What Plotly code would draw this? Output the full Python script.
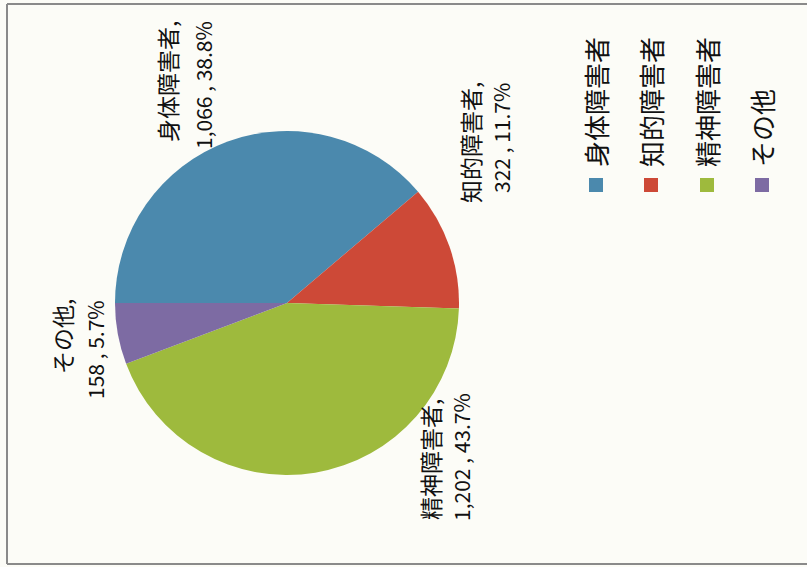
import plotly.graph_objects as go

W, H = 807, 567

categories = ["身体障害者", "知的障害者", "精神障害者", "その他"]
values = [1066, 322, 1202, 158]
percents = ["38.8%", "11.7%", "43.7%", "5.7%"]
colors = ["#4b89ad", "#cd4937", "#9eba3d", "#7d6ba3"]

FONT = "Noto Sans CJK JP"


def px(x):
    return x / W


def py(y):
    return 1 - y / H


fig = go.Figure()

# pie placed by its domain (centre ~ (287,303), radius ~172)
cx, cy, r = 287, 303, 172
fig.add_trace(go.Pie(
    labels=categories,
    values=values,
    sort=False,
    direction="clockwise",
    rotation=270,
    marker=dict(colors=colors, line=dict(width=0)),
    textinfo="none",
    hoverinfo="label+value+percent",
    showlegend=False,
    domain=dict(x=[px(cx - r), px(cx + r)], y=[py(cy + r), py(cy - r)]),
))

annotations = []

# data labels: (line1 x, line1 y, line2 x, line2 y) centres in pixels
label_pos = [
    (167, 82, 203, 85),
    (470, 142, 501, 138),
    (430, 460, 461, 457),
    (62, 337, 95, 350),
]
for cat, val, pct, (x1, y1, x2, y2) in zip(categories, values, percents, label_pos):
    annotations.append(dict(
        x=px(x1), y=py(y1), xref="paper", yref="paper",
        text=cat + ",", textangle=-90, showarrow=False,
        xanchor="center", yanchor="middle",
        font=dict(family=FONT, size=23, color="#111111"),
    ))
    annotations.append(dict(
        x=px(x2), y=py(y2), xref="paper", yref="paper",
        text=f"{val:,} , {pct}", textangle=-90, showarrow=False,
        xanchor="center", yanchor="middle",
        font=dict(family=FONT, size=21, color="#111111"),
    ))

# legend (rotated)
legend_x = [596, 651, 707, 762]
shapes = []
for cat, col, lx in zip(categories, colors, legend_x):
    annotations.append(dict(
        x=px(lx), y=py(169), xref="paper", yref="paper",
        text=cat, textangle=-90, showarrow=False,
        xanchor="center", yanchor="bottom",
        font=dict(family=FONT, size=26, color="#111111"),
    ))
    shapes.append(dict(
        type="rect", xref="paper", yref="paper",
        x0=px(lx - 7), x1=px(lx + 7), y0=py(192), y1=py(178),
        fillcolor=col, line=dict(width=0),
    ))

# scanned frame border (top, left, bottom)
border = dict(color="#8a8a8a", width=2)
shapes.append(dict(type="line", xref="paper", yref="paper",
                   x0=px(7), x1=1, y0=py(4), y1=py(4), line=border))
shapes.append(dict(type="line", xref="paper", yref="paper",
                   x0=px(7), x1=px(7), y0=py(4), y1=py(564), line=border))
shapes.append(dict(type="line", xref="paper", yref="paper",
                   x0=px(7), x1=1, y0=py(564), y1=py(564), line=border))

fig.update_layout(
    width=W, height=H,
    margin=dict(l=0, r=0, t=0, b=0),
    paper_bgcolor="#fcfcf7",
    plot_bgcolor="#fcfcf7",
    annotations=annotations,
    shapes=shapes,
    showlegend=False,
)

fig.write_html(
    "out.html",
    config={"displayModeBar": False},
    post_script="document.body.style.margin='0';document.body.style.overflow='hidden';",
)
